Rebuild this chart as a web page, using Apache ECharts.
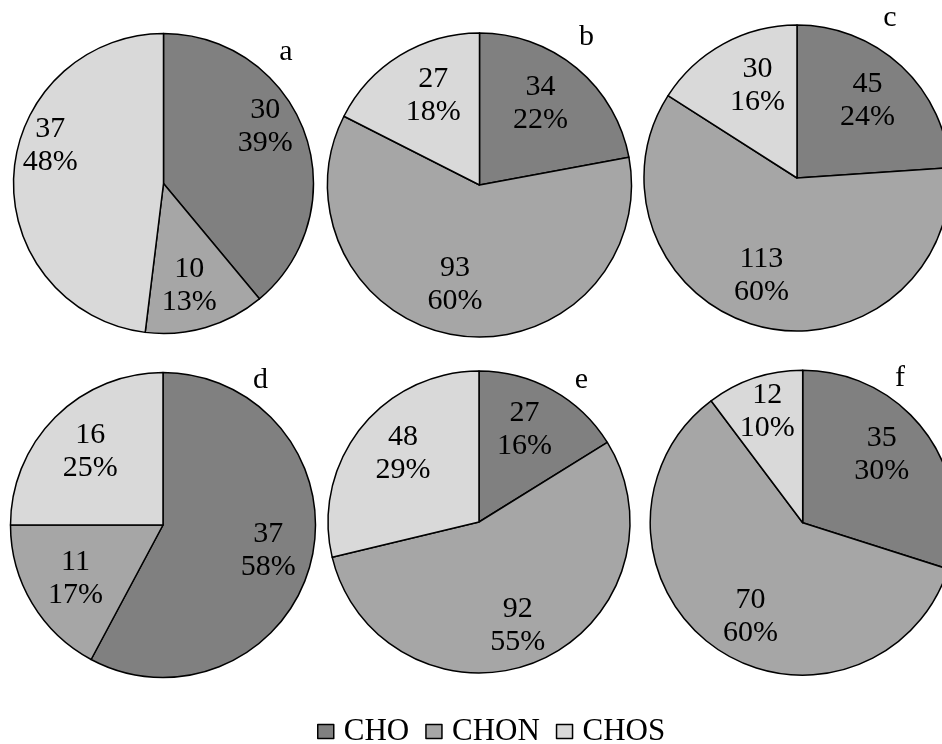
<!DOCTYPE html>
<html>
<head>
<meta charset="utf-8">
<script src="https://cdn.jsdelivr.net/npm/echarts@6/dist/echarts.min.js"></script>
<style>
  html, body { margin: 0; padding: 0; background: #fff; }
  #chart { width: 942px; height: 744px; }
</style>
</head>
<body>
<div id="chart"></div>
<script>
const categories = ['CHO', 'CHON', 'CHOS'];
const panelLabels = ['a', 'b', 'c', 'd', 'e', 'f'];
const choValues = [30, 34, 45, 37, 27, 35];
const chonValues = [10, 93, 113, 11, 92, 70];
const chosValues = [37, 27, 30, 16, 48, 12];
const colors = ['#808080', '#a6a6a6', '#d9d9d9'];

const FONT = "'Liberation Serif', 'Times New Roman', serif";

// layout: pie centres / radii, label radial ratio, label nudges, panel letter positions
const layout = [
  { c: [163.5, 183.5], r: 150, lr: 0.73, shift: [[-4, -19], [-6, -6], [-1, -31]], t: [286, 52] },
  { c: [479.5, 185], r: 152, lr: 0.65, shift: [[-4, -3], [-10, -1], [7, -3]], t: [586.5, 37] },
  { c: [797, 178], r: 153, lr: 0.655, shift: [[0, -2], [-10, -2], [10, -2]], t: [890, 18] },
  { c: [163, 525], r: 152.5, lr: 0.665, shift: [[4, 0], [2, 0], [1, 0]], t: [260.5, 380] },
  { c: [479, 522], r: 151, lr: 0.68, shift: [[-6, 0], [-2, 6], [7, -3]], t: [581.5, 380] },
  { c: [802.7, 522.7], r: 152.5, lr: 0.695, shift: [[-9, -4], [11, 5], [-1, -8]], t: [900, 378] }
];

const seriesValues = [choValues, chonValues, chosValues];

const visibleSeries = [];
const labelSeries = [];
panelLabels.forEach(function (p, i) {
  const data = categories.map(function (name, k) {
    return { name: name, value: seriesValues[k][i] };
  });
  const L = layout[i];
  visibleSeries.push({
    type: 'pie',
    name: p,
    center: L.c,
    radius: L.r,
    startAngle: 90,
    clockwise: true,
    percentPrecision: 0,
    avoidLabelOverlap: false,
    label: { show: false },
    labelLine: { show: false },
    itemStyle: { borderColor: '#000', borderWidth: 1.5 },
    emphasis: { disabled: true },
    data: data
  });
  labelSeries.push({
    type: 'pie',
    name: p + '-labels',
    silent: true,
    legendHoverLink: false,
    center: L.c,
    radius: [L.r * (2 * L.lr - 1), L.r],
    startAngle: 90,
    clockwise: true,
    percentPrecision: 0,
    avoidLabelOverlap: false,
    itemStyle: { color: 'transparent', borderWidth: 0 },
    emphasis: { disabled: true },
    label: {
      show: true,
      position: 'inside',
      formatter: '{c}\n{d}%',
      color: '#000',
      fontSize: 30,
      lineHeight: 33,
      fontFamily: FONT
    },
    labelLayout: function (params) {
      const s = L.shift[params.dataIndex];
      return { dx: s[0], dy: s[1] };
    },
    labelLine: { show: false },
    data: data
  });
});

const graphics = panelLabels.map(function (p, i) {
  return {
    type: 'text',
    x: layout[i].t[0],
    y: layout[i].t[1],
    silent: true,
    style: {
      text: p,
      fill: '#000',
      font: '30px ' + FONT,
      textAlign: 'center',
      textVerticalAlign: 'middle'
    }
  };
});

const chart = echarts.init(document.getElementById('chart'), null, { renderer: 'canvas' });
chart.setOption({
  animation: false,
  color: colors,
  backgroundColor: '#fff',
  legend: {
    data: categories,
    left: 317,
    top: 716,
    padding: 0,
    itemWidth: 16,
    itemHeight: 14,
    itemGap: 16,
    icon: 'rect',
    selectedMode: false,
    itemStyle: { borderColor: '#000', borderWidth: 1.5 },
    textStyle: { fontSize: 31, fontFamily: FONT, color: '#000', padding: [0, 0, 0, 5] }
  },
  graphic: graphics,
  series: visibleSeries.concat(labelSeries)
});
</script>
</body>
</html>
